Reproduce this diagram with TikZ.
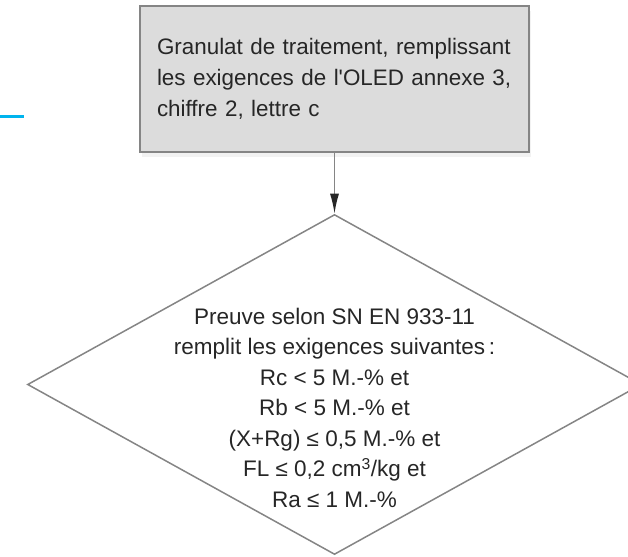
\documentclass[tikz,border=0pt]{standalone}
\usepackage{fontspec}
\setmainfont{Liberation Sans}
\usepackage{xcolor}
\usetikzlibrary{arrows.meta,positioning,shapes.geometric,shadows}
\definecolor{txtgray}{HTML}{262626}
\definecolor{boxgray}{HTML}{DCDCDC}
\definecolor{linegray}{HTML}{858585}
\definecolor{markblue}{HTML}{00B4EE}

\begin{document}
\begin{tikzpicture}[
    x=1pt,y=-1pt,
    node distance=61pt,
    box/.style={rectangle,draw=linegray,line width=1.5pt,fill=boxgray,align=left,text width=355pt,inner xsep=17pt,minimum height=146pt,text=txtgray,font=\fontsize{22.4}{31}\selectfont,drop shadow={shadow xshift=2pt,shadow yshift=-5pt,fill=black!10}},
    decision/.style={diamond,draw=linegray,line width=1.5pt,inner sep=0pt,minimum width=614pt,minimum height=340pt},
    crit/.style={align=center,text=txtgray,font=\fontsize{22.5}{30.5}\selectfont},
    arrow/.style={-{Latex[length=20pt,width=9pt,color=txtgray]},draw=linegray,line width=1.5pt}
]
\useasboundingbox (0,0) rectangle (628,556);
\draw[markblue,line width=3pt] (0,117) -- (24,117);
\node[box] (gran) at (334.5,79) {Granulat de traitement, remplissant\\les exigences de l\textquotesingle OLED annexe 3,\\chiffre 2, lettre c};
\node[decision,below=of gran] (proof) {};
\node[crit] (rules) at ([yshift=-23pt]proof.center) {Preuve selon SN EN 933-11\\remplit les exigences suivantes\,:\\Rc < 5 M.-\% et\\Rb < 5 M.-\% et\\(X+Rg) ≤ 0,5 M.-\% et\\FL ≤ 0,2 cm\textsuperscript{3}/kg et\\Ra ≤ 1 M.-\%};
\draw[arrow] (gran) -- (proof);
\end{tikzpicture}
\end{document}
